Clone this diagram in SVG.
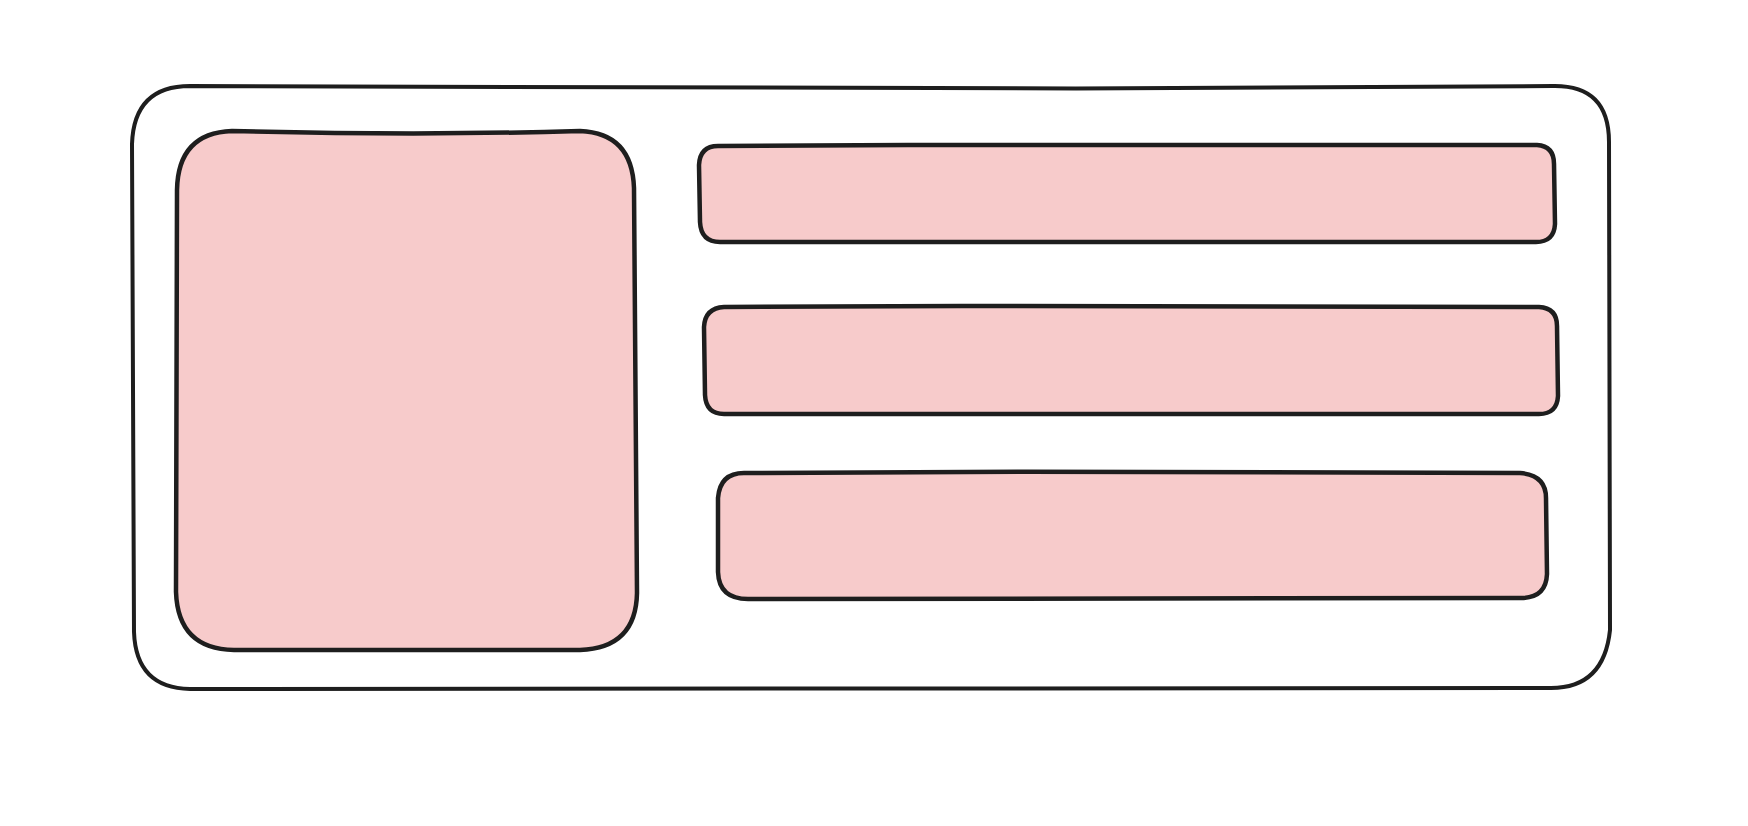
<svg xmlns="http://www.w3.org/2000/svg" width="1748" height="826" viewBox="0 0 1748 826">
<style>
.outer{fill:#ffffff;stroke:#1e1e1e;stroke-width:4;stroke-linejoin:round;stroke-linecap:round}
.box{fill:#f7cbcb;stroke:#1e1e1e;stroke-width:4.5;stroke-linejoin:round;stroke-linecap:round}
</style>
<rect x="0" y="0" width="1748" height="826" fill="#ffffff"/>
<g id="container">
<path class="outer" d="M 190 86 C 600 89, 1100 90, 1553 86 Q 1609 85, 1609 142 L 1610 630 Q 1604 688, 1551 688 L 190 689 Q 136 688, 134 632 L 132 144 Q 134 86, 190 86 Z"/>
</g>
<g id="left-panel">
<path class="box" d="M 232 131 C 350 134, 480 134, 580 131 Q 632 133, 634 188 L 637 593 Q 636 648, 580 650 L 234 650 Q 178 649, 176 592 L 177 190 Q 178 133, 232 131 Z"/>
</g>
<g id="bar-1">
<path class="box" d="M 718 146 C 1000 144, 1300 144, 1537 145 Q 1554 146, 1554 164 L 1555 224 Q 1554 242, 1536 242 L 720 242 Q 701 242, 700 222 L 699 165 Q 700 146, 718 146 Z"/>
</g>
<g id="bar-2">
<path class="box" d="M 724 307 C 1000 305, 1300 306, 1539 307 Q 1557 308, 1557 326 L 1558 396 Q 1557 414, 1539 414 L 724 414 Q 706 414, 705 395 L 704 327 Q 705 308, 724 307 Z"/>
</g>
<g id="bar-3">
<path class="box" d="M 744 473 C 1000 471, 1300 471, 1520 473 Q 1546 475, 1546 498 L 1547 574 Q 1546 598, 1521 598 L 748 599 Q 719 599, 718 572 L 718 498 Q 720 473, 744 473 Z"/>
</g>
<g id="connectors"></g>
</svg>
